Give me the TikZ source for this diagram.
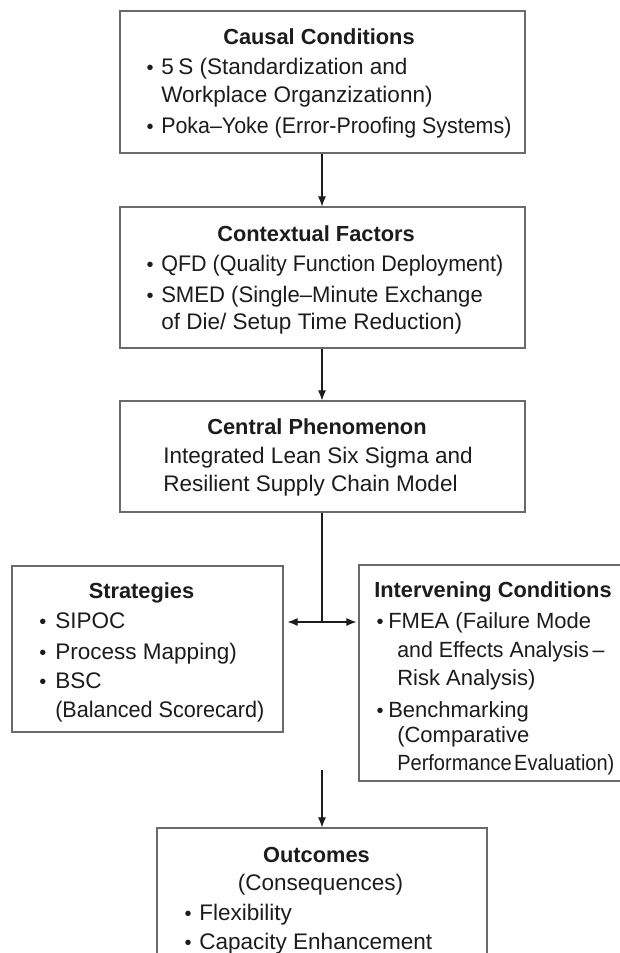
\documentclass[tikz,border=0pt]{standalone}
\usepackage{fontspec}
\setmainfont{Liberation Sans}
\usetikzlibrary{arrows.meta}
\definecolor{ink}{HTML}{1C1C1C}
\definecolor{frame}{HTML}{6A6A6A}
\newcommand{\squeeze}[2]{\scalebox{#1}[1]{#2}}
\begin{document}
\begin{tikzpicture}[x=0.75pt,y=-0.75pt,
  box/.style={draw=frame, line width=0.9pt, rectangle, inner sep=0pt},
  ttl/.style={font=\fontsize{16.35}{20}\selectfont\bfseries, text=ink, inner sep=0pt, anchor=base},
  txt/.style={font=\fontsize{16.9}{20}\selectfont, text=ink, inner sep=0pt, anchor=base west},
  stxt/.style={font=\fontsize{16.5}{20}\selectfont, text=ink, inner sep=0pt, anchor=base west},
  bul/.style={font=\fontsize{15}{20}\selectfont, text=ink, inner sep=0pt, anchor=base},
  arr/.style={draw=ink, line width=0.8pt, -{Latex[length=7.5pt,width=6pt]}},
  dbl/.style={draw=ink, line width=0.8pt, {Latex[length=7.5pt,width=6pt]}-{Latex[length=7.5pt,width=6pt]}},
  link/.style={draw=ink, line width=0.8pt}]
\useasboundingbox (0,0) rectangle (619,953);
\fill[white] (0,0) rectangle (619,953);

% --- boxes ---
\node[box, minimum width=405*0.75pt, minimum height=142*0.75pt] (causal) at (322.5,82) {};
\node[box, minimum width=405*0.75pt, minimum height=141*0.75pt] (context) at (322.5,277.5) {};
\node[box, minimum width=405*0.75pt, minimum height=111*0.75pt] (central) at (322.5,456.5) {};
\node[box, minimum width=271*0.75pt, minimum height=166*0.75pt] (strategies) at (147.5,649) {};
\node[box, minimum width=270*0.75pt, minimum height=216*0.75pt] (intervening) at (494,673) {};
\node[box, minimum width=330*0.75pt, minimum height=160*0.75pt] (outcomes) at (322,908) {};

% --- Causal Conditions ---
\node[ttl] (t1) at (319,44) {Causal Conditions};
\node[bul] (b1a) at (150,74) {•};
\node[txt] (l1a) at (161,74) {5\hspace{0.2em}S (Standardization and};
\node[txt] (l1b) at (161,102) {Workplace Organzizationn)};
\node[bul] (b1b) at (150,133) {•};
\node[txt] (l1c) at (161,133) {\squeeze{0.95}{Poka–Yoke (Error-Proofing Systems)}};

% --- Contextual Factors ---
\node[ttl] (t2) at (316,241) {Contextual Factors};
\node[bul] (b2a) at (150,271) {•};
\node[txt] (l2a) at (161,271) {\squeeze{0.955}{QFD (Quality Function Deployment)}};
\node[bul] (b2b) at (150,302) {•};
\node[txt] (l2b) at (161,302) {\squeeze{0.98}{SMED (Single–Minute Exchange}};
\node[txt] (l2c) at (161,329) {of Die/ Setup Time Reduction)};

% --- Central Phenomenon ---
\node[ttl] (t3) at (317,434) {Central Phenomenon};
\node[txt] (l3a) at (163,463) {Integrated Lean Six Sigma and};
\node[txt] (l3b) at (163,491) {Resilient Supply Chain Model};

% --- Strategies ---
\node[ttl] (t4) at (141.5,598) {Strategies};
\node[bul] (b4a) at (43,628) {•};
\node[txt] (l4a) at (55,628) {SIPOC};
\node[bul] (b4b) at (43,659) {•};
\node[txt] (l4b) at (55,659) {Process Mapping)};
\node[bul] (b4c) at (43,688) {•};
\node[txt] (l4c) at (55,688) {BSC};
\node[txt] (l4d) at (55,717) {\squeeze{0.96}{(Balanced Scorecard)}};

% --- Intervening Conditions ---
\node[ttl, anchor=base west] (t5) at (374,597) {Intervening Conditions};
\node[bul] (b5a) at (380,628) {•};
\node[stxt] (l5a) at (388,628) {FMEA (Failure Mode};
\node[stxt] (l5b) at (397,657) {\squeeze{0.97}{and Effects Analysis\,–}};
\node[stxt] (l5c) at (397,685) {Risk Analysis)};
\node[bul] (b5b) at (380,717) {•};
\node[stxt] (l5d) at (388,717) {Benchmarking};
\node[stxt] (l5e) at (397,742) {(Comparative};
\node[stxt] (l5f) at (397,770) {\squeeze{0.91}{Performance\hspace{0.12em}Evaluation)}};

% --- Outcomes ---
\node[ttl] (t6) at (316.5,862) {Outcomes};
\node[txt, anchor=base] (l6a) at (320.5,890) {(Consequences)};
\node[bul] (b6a) at (188,920) {•};
\node[txt] (l6b) at (199,920) {Flexibility};
\node[bul] (b6b) at (188,949) {•};
\node[txt] (l6c) at (199,949) {Capacity Enhancement};

% --- connectors ---
\coordinate (junction) at (322,622);
\coordinate (lowstart) at (322,770);
\draw[arr] (causal.south -| junction) -- (context.north -| junction);
\draw[arr] (context.south -| junction) -- (central.north -| junction);
\draw[link] (central.south -| junction) -- (junction);
\draw[dbl, shorten <=3pt, shorten >=1.5pt] (strategies.east |- junction) -- (intervening.west |- junction);
\draw[arr] (lowstart) -- (outcomes.north -| lowstart);
\end{tikzpicture}
\end{document}
